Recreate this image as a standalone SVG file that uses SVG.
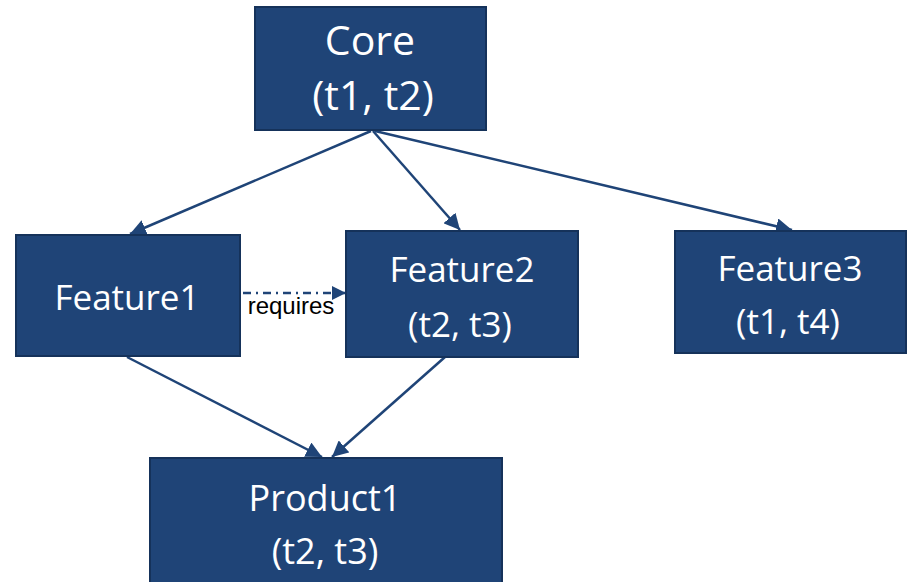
<svg xmlns="http://www.w3.org/2000/svg" width="907" height="582" viewBox="0 0 907 582">
<defs>
<marker id="ah" markerUnits="userSpaceOnUse" markerWidth="18" markerHeight="16" refX="16" refY="8" orient="auto">
<path d="M0,0 L16,8 L0,16 Z" fill="#1F4477"/>
</marker>
<marker id="ah2" markerUnits="userSpaceOnUse" markerWidth="16" markerHeight="16" refX="14" refY="7" orient="auto">
<path d="M0,0 L14,7 L0,14 Z" fill="#1F4477"/>
</marker>
</defs>
<style>
.box{fill:#1F4477;stroke:#15325A;stroke-width:2}
.t{font-family:"Open Sans","Noto Sans",sans-serif;fill:#ffffff;text-anchor:middle}
.c{stroke:#1F4477;stroke-width:2.5;fill:none}
</style>
<rect width="907" height="582" fill="#ffffff"/>
<g id="connectors">
<line class="c" x1="371" y1="131" x2="130" y2="234" marker-end="url(#ah)"/>
<line class="c" x1="373" y1="131" x2="460" y2="230" marker-end="url(#ah)"/>
<line class="c" x1="375" y1="131" x2="792" y2="230" marker-end="url(#ah)"/>
<line class="c" x1="127" y1="357" x2="322" y2="457" marker-end="url(#ah)"/>
<line class="c" x1="445" y1="357" x2="332" y2="457" marker-end="url(#ah)"/>
<line x1="243" y1="293" x2="346" y2="293" stroke="#1F4477" stroke-width="2.5" stroke-dasharray="8,5,2,5" marker-end="url(#ah2)"/>
<text x="291" y="314" font-family="Liberation Sans,Arial,sans-serif" font-size="24" fill="#000000" text-anchor="middle">requires</text>
</g>
<g id="core">
<rect class="box" x="255" y="7" width="231" height="123"/>
<text class="t" x="370" y="55" font-size="41">Core</text>
<text class="t" x="373" y="110" font-size="41">(t1, t2)</text>
</g>
<g id="feature1">
<rect class="box" x="16" y="235" width="224" height="121"/>
<text class="t" x="127" y="310" font-size="35">Feature1</text>
</g>
<g id="feature2">
<rect class="box" x="346" y="231" width="232" height="126"/>
<text class="t" x="462" y="282" font-size="35">Feature2</text>
<text class="t" x="460" y="337" font-size="35">(t2, t3)</text>
</g>
<g id="feature3">
<rect class="box" x="675" y="231" width="231" height="122"/>
<text class="t" x="790" y="281" font-size="35">Feature3</text>
<text class="t" x="788" y="334" font-size="35">(t1, t4)</text>
</g>
<g id="product1">
<rect class="box" x="150" y="458" width="352" height="130"/>
<text class="t" x="325" y="511" font-size="36">Product1</text>
<text class="t" x="325" y="564" font-size="36">(t2, t3)</text>
</g>
</svg>
